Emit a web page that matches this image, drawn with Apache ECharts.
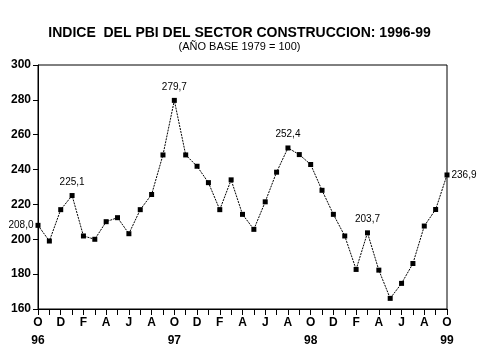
<!DOCTYPE html>
<html><head><meta charset="utf-8">
<script src="https://cdn.jsdelivr.net/npm/echarts@6/dist/echarts.min.js"></script>
<style>html,body{margin:0;padding:0;background:#fff}#c{width:479px;height:359px}</style>
</head><body><div id="c"></div>
<script>
const months = ['O','N','D','E','F','M','A','M','J','J','A','S',
                'O','N','D','E','F','M','A','M','J','J','A','S',
                'O','N','D','E','F','M','A','M','J','J','A','S','O'];
const years = {0:'96',12:'97',24:'98',36:'99'};
const values = [208.0,199.0,217.0,225.1,201.9,200.0,210.1,212.4,203.2,217.0,225.7,248.4,
                279.7,248.4,241.9,232.5,217.0,234.1,214.3,205.7,221.5,238.5,252.4,248.6,
                242.9,228.1,214.3,201.9,182.7,203.7,182.3,166.1,174.7,186.1,207.6,217.1,236.9];
const labelled = {0:'left',3:'top',12:'top',22:'top',29:'top',36:'right'};
const cats = months.map((m,i)=>String(i));
const chart = echarts.init(document.getElementById('c'));
chart.setOption({
  animation:false,
  title:{text:'INDICE  DEL PBI DEL SECTOR CONSTRUCCION: 1996-99',
    subtext:'(AÑO BASE 1979 = 100)',left:'center',top:21,itemGap:1,
    textStyle:{fontFamily:'Liberation Sans',fontWeight:'bold',fontSize:14,color:'#000'},
    subtextStyle:{fontFamily:'Liberation Sans',fontSize:11,color:'#000'}},
  grid:{left:38,right:32,top:65,bottom:50,show:true,borderColor:'#000',borderWidth:1},
  xAxis:{type:'category',data:cats,boundaryGap:false,
    axisLine:{lineStyle:{color:'#000',width:1}},
    axisTick:{show:true,interval:0,length:6,lineStyle:{color:'#000'}},
    axisLabel:{interval:1,color:'#000',fontFamily:'Liberation Sans',fontWeight:'bold',fontSize:12,
      lineHeight:18,margin:5,
      formatter:(v)=>{const i=+v;return months[i]+(years[i]?'\n'+years[i]:'');}},
    splitLine:{show:false}},
  yAxis:{type:'value',min:160,max:300,interval:20,
    axisLine:{show:true,lineStyle:{color:'#000',width:1}},
    axisTick:{show:true,length:5,lineStyle:{color:'#000'}},
    axisLabel:{color:'#000',fontFamily:'Liberation Sans',fontWeight:'bold',fontSize:12,margin:7},
    splitLine:{show:false}},
  series:[{type:'line',data:values.map((v,i)=>{
      const d={value:v};
      if(labelled[i]!==undefined){d.label={show:true,position:labelled[i],distance:labelled[i]==='top'?6:2,
        formatter:v.toFixed(1).replace('.',','),fontFamily:'Liberation Sans',fontSize:10,color:'#000'};}
      return d;}),
    symbol:'rect',symbolSize:5,itemStyle:{color:'#000'},
    lineStyle:{color:'#000',width:1,type:[2,1]},label:{show:false}}]
});
</script></body></html>
